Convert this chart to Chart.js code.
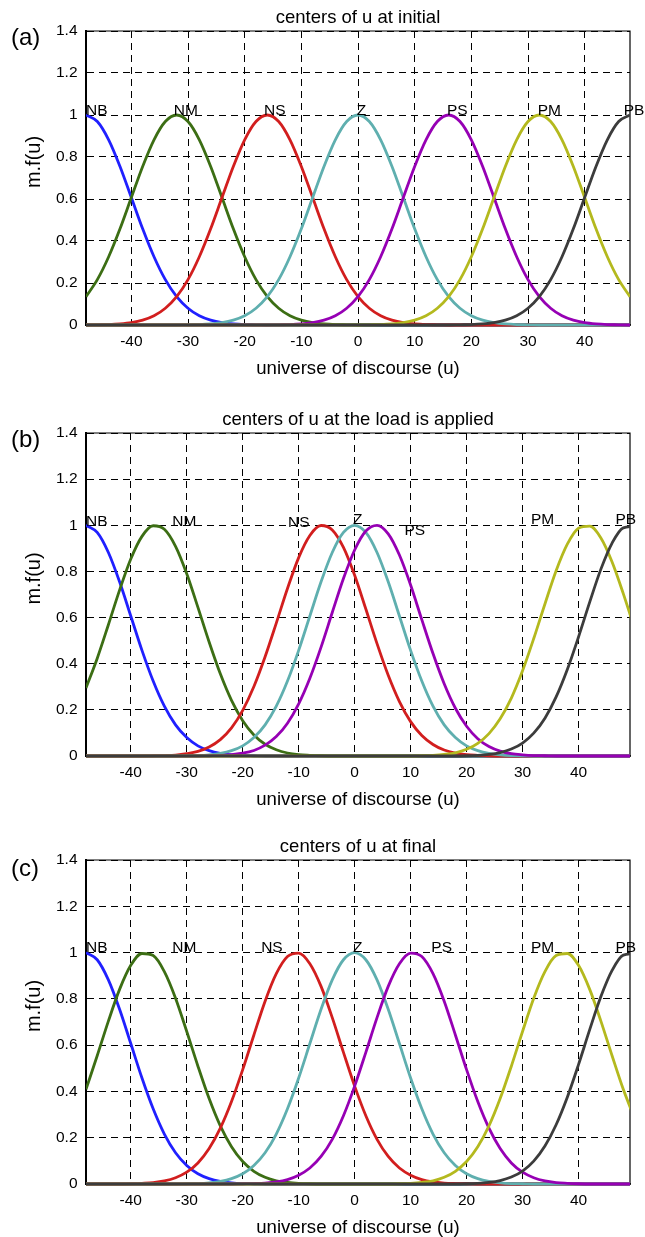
<!DOCTYPE html>
<html>
<head>
<meta charset="utf-8">
<script src="https://cdn.jsdelivr.net/npm/chart.js@4.4.1/dist/chart.umd.min.js"></script>
<style>
  html, body { margin: 0; padding: 0; background: #fff; overflow: hidden; }
  #page { position: relative; width: 645px; height: 1237px; }
  canvas { position: absolute; left: 0; }
  .tag { position: absolute; left: 11px; font: 24px "Liberation Sans", Arial, sans-serif; line-height: 24px; color: #000; }
</style>
</head>
<body>
<div id="page">
  <canvas id="chartA" width="645" height="380" style="top:0px"></canvas>
  <canvas id="chartB" width="645" height="409" style="top:402px"></canvas>
  <canvas id="chartC" width="645" height="410" style="top:829px"></canvas>
  <div class="tag" style="top:25px">(a)</div>
  <div class="tag" style="top:427px">(b)</div>
  <div class="tag" style="top:856px">(c)</div>
</div>
<script>
// fuzzy sets, same order in every panel
const setNames = ['NB', 'NM', 'NS', 'Z', 'PS', 'PM', 'PB'];
const setColors = ['#2020ff', '#3c6e14', '#d21e1e', '#5fafaf', '#9600b4', '#b4b91e', '#3c3c3c'];

const xTicks = [-40, -30, -20, -10, 0, 10, 20, 30, 40];
const yTicks = [0, 0.2, 0.4, 0.6, 0.8, 1, 1.2, 1.4];

// (a) centers of u at initial
const uA = [-48,-46,-44,-42,-40,-38,-36,-34,-32,-30,-28,-26,-24,-22,-20,-18,-16,-14,-12,-10,-8,-6,-4,-2,0,2,4,6,8,10,12,14,16,18,20,22,24,26,28,30,32,34,36,38,40,42,44,46,48];
const aNB = [1,0.969,0.882,0.755,0.607,0.458,0.325,0.216,0.135,0.08,0.044,0.023,0.011,0.005,0.002,0.001,0,0,0,0,0,0,0,0,0,0,0,0,0,0,0,0,0,0,0,0,0,0,0,0,0,0,0,0,0,0,0,0,0];
const aNM = [0.135,0.216,0.325,0.458,0.607,0.755,0.882,0.969,1,0.969,0.882,0.755,0.607,0.458,0.325,0.216,0.135,0.08,0.044,0.023,0.011,0.005,0.002,0.001,0,0,0,0,0,0,0,0,0,0,0,0,0,0,0,0,0,0,0,0,0,0,0,0,0];
const aNS = [0,0.001,0.002,0.005,0.011,0.023,0.044,0.08,0.135,0.216,0.325,0.458,0.607,0.755,0.882,0.969,1,0.969,0.882,0.755,0.607,0.458,0.325,0.216,0.135,0.08,0.044,0.023,0.011,0.005,0.002,0.001,0,0,0,0,0,0,0,0,0,0,0,0,0,0,0,0,0];
const aZ = [0,0,0,0,0,0,0,0,0,0.001,0.002,0.005,0.011,0.023,0.044,0.08,0.135,0.216,0.325,0.458,0.607,0.755,0.882,0.969,1,0.969,0.882,0.755,0.607,0.458,0.325,0.216,0.135,0.08,0.044,0.023,0.011,0.005,0.002,0.001,0,0,0,0,0,0,0,0,0];
const aPS = [0,0,0,0,0,0,0,0,0,0,0,0,0,0,0,0,0,0.001,0.002,0.005,0.011,0.023,0.044,0.08,0.135,0.216,0.325,0.458,0.607,0.755,0.882,0.969,1,0.969,0.882,0.755,0.607,0.458,0.325,0.216,0.135,0.08,0.044,0.023,0.011,0.005,0.002,0.001,0];
const aPM = [0,0,0,0,0,0,0,0,0,0,0,0,0,0,0,0,0,0,0,0,0,0,0,0,0,0.001,0.002,0.005,0.011,0.023,0.044,0.08,0.135,0.216,0.325,0.458,0.607,0.755,0.882,0.969,1,0.969,0.882,0.755,0.607,0.458,0.325,0.216,0.135];
const aPB = [0,0,0,0,0,0,0,0,0,0,0,0,0,0,0,0,0,0,0,0,0,0,0,0,0,0,0,0,0,0,0,0,0,0.001,0.002,0.005,0.011,0.023,0.044,0.08,0.135,0.216,0.325,0.458,0.607,0.755,0.882,0.969,1];
const tagUA = [-48, -32.5, -16.6, -0.2, 15.7, 31.7, 46.9];
const tagMA = [1.02, 1.02, 1.02, 1.02, 1.02, 1.02, 1.02];

// (b) centers of u at the load is applied
const uB = [-48,-46,-44,-42,-40,-38,-36,-34,-32,-30,-28,-26,-24,-22,-20,-18,-16,-14,-12,-10,-8,-6,-4,-2,0,2,4,6,8,10,12,14,16,18,20,22,24,26,28,30,32,34,36,38,40,42,44,46,48,50];
const bNB = [1,0.969,0.882,0.755,0.607,0.458,0.325,0.216,0.135,0.08,0.044,0.023,0.011,0.005,0.002,0.001,0,0,0,0,0,0,0,0,0,0,0,0,0,0,0,0,0,0,0,0,0,0,0,0,0,0,0,0,0,0,0,0,0,0];
const bNM = [0.295,0.423,0.569,0.719,0.854,0.952,0.998,0.983,0.909,0.79,0.644,0.494,0.356,0.241,0.153,0.091,0.051,0.027,0.013,0.006,0.003,0.001,0,0,0,0,0,0,0,0,0,0,0,0,0,0,0,0,0,0,0,0,0,0,0,0,0,0,0,0];
const bNS = [0,0,0,0,0,0,0.001,0.002,0.004,0.01,0.02,0.039,0.071,0.122,0.198,0.301,0.43,0.576,0.726,0.86,0.956,0.999,0.98,0.904,0.783,0.637,0.487,0.35,0.236,0.149,0.089,0.05,0.026,0.013,0.006,0.003,0.001,0,0,0,0,0,0,0,0,0,0,0,0,0];
const bZ = [0,0,0,0,0,0,0,0,0,0.001,0.002,0.005,0.011,0.023,0.044,0.08,0.135,0.216,0.325,0.458,0.607,0.755,0.882,0.969,1,0.969,0.882,0.755,0.607,0.458,0.325,0.216,0.135,0.08,0.044,0.023,0.011,0.005,0.002,0.001,0,0,0,0,0,0,0,0,0,0];
const bPS = [0,0,0,0,0,0,0,0,0,0,0,0.001,0.002,0.006,0.012,0.024,0.047,0.084,0.142,0.226,0.337,0.472,0.622,0.769,0.893,0.975,1,0.963,0.871,0.741,0.591,0.444,0.313,0.207,0.129,0.075,0.041,0.021,0.01,0.005,0.002,0.001,0,0,0,0,0,0,0,0];
const bPM = [0,0,0,0,0,0,0,0,0,0,0,0,0,0,0,0,0,0,0,0,0,0,0,0,0,0,0,0,0,0,0.001,0.003,0.007,0.014,0.029,0.055,0.097,0.161,0.251,0.369,0.509,0.659,0.803,0.918,0.987,0.996,0.945,0.841,0.704,0.554];
const bPB = [0,0,0,0,0,0,0,0,0,0,0,0,0,0,0,0,0,0,0,0,0,0,0,0,0,0,0,0,0,0,0,0,0,0,0.001,0.003,0.007,0.015,0.03,0.056,0.099,0.164,0.256,0.375,0.516,0.667,0.81,0.923,0.989,0.995];
const tagUB = [-48, -32.6, -11.9, -0.3, 8.9, 31.5, 46.6];
const tagMB = [1.016, 1.016, 1.01, 1.026, 0.977, 1.024, 1.024];

// (c) centers of u at final
const uC = [-48,-46,-44,-42,-40,-38,-36,-34,-32,-30,-28,-26,-24,-22,-20,-18,-16,-14,-12,-10,-8,-6,-4,-2,0,2,4,6,8,10,12,14,16,18,20,22,24,26,28,30,32,34,36,38,40,42,44,46,48,50];
const cNB = [1,0.969,0.882,0.755,0.607,0.458,0.325,0.216,0.135,0.08,0.044,0.023,0.011,0.005,0.002,0.001,0,0,0,0,0,0,0,0,0,0,0,0,0,0,0,0,0,0,0,0,0,0,0,0,0,0,0,0,0,0,0,0,0,0];
const cNM = [0.409,0.554,0.704,0.841,0.945,0.996,0.987,0.918,0.803,0.659,0.509,0.369,0.251,0.161,0.097,0.055,0.029,0.014,0.007,0.003,0.001,0,0,0,0,0,0,0,0,0,0,0,0,0,0,0,0,0,0,0,0,0,0,0,0,0,0,0,0,0];
const cNS = [0,0,0,0,0.001,0.003,0.006,0.013,0.027,0.051,0.091,0.153,0.241,0.356,0.494,0.644,0.79,0.909,0.983,0.998,0.952,0.854,0.719,0.569,0.423,0.295,0.193,0.119,0.069,0.038,0.019,0.009,0.004,0.002,0.001,0,0,0,0,0,0,0,0,0,0,0,0,0,0,0];
const cZ = [0,0,0,0,0,0,0,0,0,0.001,0.002,0.005,0.011,0.023,0.044,0.08,0.135,0.216,0.325,0.458,0.607,0.755,0.882,0.969,1,0.969,0.882,0.755,0.607,0.458,0.325,0.216,0.135,0.08,0.044,0.023,0.011,0.005,0.002,0.001,0,0,0,0,0,0,0,0,0,0];
const cPS = [0,0,0,0,0,0,0,0,0,0,0,0,0,0,0.001,0.002,0.004,0.009,0.019,0.038,0.069,0.119,0.193,0.295,0.423,0.569,0.719,0.854,0.952,0.998,0.983,0.909,0.79,0.644,0.494,0.356,0.241,0.153,0.091,0.051,0.027,0.013,0.006,0.003,0.001,0,0,0,0,0];
const cPM = [0,0,0,0,0,0,0,0,0,0,0,0,0,0,0,0,0,0,0,0,0,0,0,0,0,0,0,0,0.001,0.003,0.007,0.014,0.029,0.055,0.097,0.161,0.251,0.369,0.509,0.659,0.803,0.918,0.987,0.996,0.945,0.841,0.704,0.554,0.409,0.284];
const cPB = [0,0,0,0,0,0,0,0,0,0,0,0,0,0,0,0,0,0,0,0,0,0,0,0,0,0,0,0,0,0,0,0,0,0,0.001,0.003,0.007,0.015,0.03,0.056,0.099,0.164,0.256,0.375,0.516,0.667,0.81,0.923,0.989,0.995];
const tagUC = [-48, -32.6, -16.7, -0.3, 13.7, 31.5, 46.6];
const tagMC = [1.02, 1.02, 1.02, 1.02, 1.02, 1.02, 1.02];

const FONT = '"Liberation Sans", Arial, Helvetica, sans-serif';
Chart.defaults.font.family = FONT;
Chart.defaults.color = '#000';

// NB, NM ... written next to each set
const setTags = {
    id: 'setTags',
    afterDatasetsDraw(chart, args, opts) {
        const { ctx, scales: { x, y } } = chart;
        ctx.save();
        ctx.font = '15.5px ' + FONT;
        ctx.fillStyle = '#000';
        ctx.textAlign = 'left';
        ctx.textBaseline = 'middle';
        opts.u.forEach((u, i) => {
            ctx.fillText(setNames[i], x.getPixelForValue(u), y.getPixelForValue(opts.m[i]));
        });
        ctx.restore();
    }
};

// top and right side of the box, plus the y label (sits a bit above the middle)
const boxFrame = {
    id: 'boxFrame',
    beforeDatasetsDraw(chart) {
        const { ctx, chartArea: a } = chart;
        ctx.save();
        ctx.strokeStyle = '#000';
        ctx.lineWidth = 1.2;
        ctx.beginPath();
        ctx.moveTo(a.left, a.top);
        ctx.lineTo(a.right, a.top);
        ctx.lineTo(a.right, a.bottom);
        ctx.stroke();

        ctx.translate(34, (a.top + a.bottom) / 2 - 16);
        ctx.rotate(-Math.PI / 2);
        ctx.font = '20px ' + FONT;
        ctx.fillStyle = '#000';
        ctx.textAlign = 'center';
        ctx.textBaseline = 'middle';
        ctx.fillText('m.f(u)', 0, 0);
        ctx.restore();
    }
};

function makePanel(id, title, us, xMax, series, tagU, tagM) {
    const datasets = series.map((ys, i) => ({
        label: setNames[i],
        data: ys.map((v, k) => ({ x: us[k], y: v })),
        borderColor: setColors[i],
        borderWidth: 2.8,
        pointRadius: 0,
        fill: false,
        cubicInterpolationMode: 'monotone',
        clip: { left: 0, right: 0, top: 4, bottom: 4 },
        order: 6 - i
    }));

    return new Chart(document.getElementById(id), {
        type: 'line',
        data: { datasets },
        options: {
            responsive: false,
            animation: false,
            devicePixelRatio: 1,
            layout: { padding: { left: 0, right: 15, top: 0, bottom: 0 } },
            scales: {
                x: {
                    type: 'linear',
                    min: -48,
                    max: xMax,
                    afterBuildTicks: s => { s.ticks = xTicks.map(v => ({ value: v })); },
                    afterFit: s => { s.height = 55; },
                    ticks: { padding: 7.5, font: { size: 15.5 }, maxRotation: 0, autoSkip: false, callback: v => String(v) },
                    grid: { color: '#000', lineWidth: 1, drawTicks: false },
                    border: { display: true, color: '#333', width: 2, dash: [7, 5] },
                    title: { display: true, text: 'universe of discourse (u)', font: { size: 18.6 }, padding: { top: 0, bottom: 0 } }
                },
                y: {
                    min: 0,
                    max: 1.4,
                    afterBuildTicks: s => { s.ticks = yTicks.map(v => ({ value: v })); },
                    afterFit: s => { s.width = 86; },
                    ticks: { padding: 8.5, font: { size: 15.5 }, callback: v => String(+v.toFixed(1)) },
                    grid: { color: '#000', lineWidth: 1, drawTicks: false },
                    border: { display: true, color: '#000', width: 2, dash: [7, 5] },
                    title: { display: false }
                }
            },
            plugins: {
                legend: { display: false },
                tooltip: { enabled: false },
                title: {
                    display: true,
                    text: title,
                    fullSize: false,
                    color: '#000',
                    font: { size: 18.5, weight: 'normal' },
                    padding: { top: 7.2, bottom: 1.6 }
                },
                setTags: { u: tagU, m: tagM }
            }
        },
        plugins: [boxFrame, setTags]
    });
}

makePanel('chartA', 'centers of u at initial', uA, 48, [aNB, aNM, aNS, aZ, aPS, aPM, aPB], tagUA, tagMA);
makePanel('chartB', 'centers of u at the load is applied', uB, 49.2, [bNB, bNM, bNS, bZ, bPS, bPM, bPB], tagUB, tagMB);
makePanel('chartC', 'centers of u at final', uC, 49.2, [cNB, cNM, cNS, cZ, cPS, cPM, cPB], tagUC, tagMC);
</script>
</body>
</html>
